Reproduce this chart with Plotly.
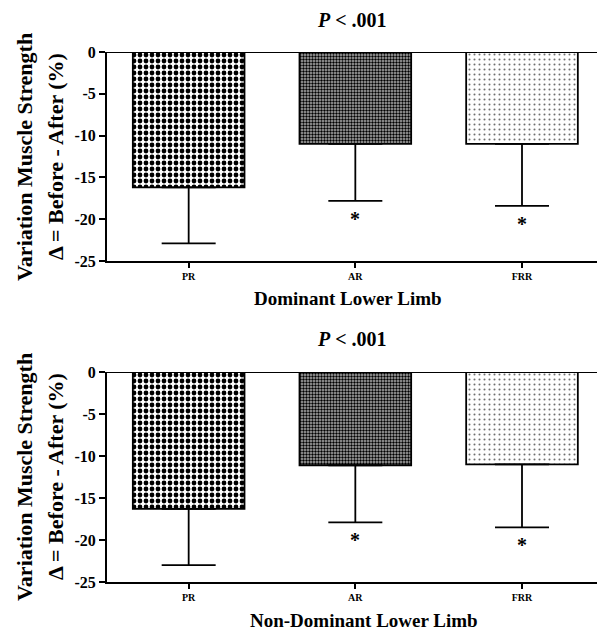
import plotly.graph_objects as go

# ---- data ----
groups = ["PR", "AR", "FRR"]
dominant_mean = [-16.2, -11.0, -11.0]
dominant_sd = [6.7, 6.8, 7.4]
nondominant_mean = [-16.3, -11.1, -11.0]
nondominant_sd = [6.7, 6.8, 7.5]
significance = ["", "*", "*"]
p_text = "<i>P</i> < .001"
panel_titles = ["Dominant Lower Limb", "Non-Dominant Lower Limb"]
y_title_lines = ["Variation Muscle Strength", "Δ = Before - After (%)"]
y_ticks = [0, -5, -10, -15, -20, -25]

FONT = "Liberation Serif, Times New Roman, serif"
W, H = 597, 633
L = 107

patterns = [
    dict(shape=".", size=6, solidity=0.5, fgcolor="black", bgcolor="white", fillmode="replace"),
    dict(shape=".", size=3, solidity=0.5, fgcolor="black", bgcolor="#b0b0b0", fillmode="replace"),
    dict(shape=".", size=5, solidity=0.13, fgcolor="#707070", bgcolor="white", fillmode="replace"),
]

def px_x(px):
    return (px - L) / (W - L)

def px_y(py):
    return (H - py) / H

fig = go.Figure()
panels = [
    (dominant_mean, dominant_sd, "x", "y"),
    (nondominant_mean, nondominant_sd, "x2", "y2"),
]
for means, sds, xa, ya in panels:
    for i, g in enumerate(groups):
        fig.add_trace(go.Bar(
            x=[g], y=[means[i]], width=0.67,
            xaxis=xa, yaxis=ya,
            marker=dict(color="white", line=dict(color="black", width=1.8), pattern=patterns[i]),
            error_y=dict(type="data", symmetric=False, array=[0], arrayminus=[sds[i]],
                         color="black", thickness=1.8, width=27),
            showlegend=False, hoverinfo="skip",
        ))

domains = [[px_y(261), px_y(52)], [px_y(582), px_y(372)]]

axis_common_x = dict(
    type="category", categoryorder="array", categoryarray=groups,
    range=[-0.49, 2.45], showline=True, linecolor="black", linewidth=2,
    ticks="outside", ticklen=5, tickwidth=1.5, tickcolor="black",
    tickfont=dict(family=FONT, size=10, color="black", weight="bold"),
    showgrid=False, zeroline=False, automargin=False, fixedrange=True,
)
axis_common_y = dict(
    range=[-25, 0], tickvals=y_ticks, ticktext=[str(v) for v in y_ticks],
    showline=True, linecolor="black", linewidth=2,
    ticks="outside", ticklen=6, tickwidth=2, tickcolor="black",
    tickfont=dict(family=FONT, size=16, color="black", weight="bold"),
    showgrid=False, zeroline=False, automargin=False, fixedrange=True,
)

fig.update_layout(
    width=W, height=H,
    margin=dict(l=L, r=0, t=0, b=0),
    paper_bgcolor="white", plot_bgcolor="white",
    barmode="overlay",
    xaxis=dict(axis_common_x, domain=[0, 1], anchor="y"),
    yaxis=dict(axis_common_y, domain=domains[0], anchor="x"),
    xaxis2=dict(axis_common_x, domain=[0, 1], anchor="y2"),
    yaxis2=dict(axis_common_y, domain=domains[1], anchor="x2"),
)

# zero lines across top of each panel
for xa, ya in [("x", "y"), ("x2", "y2")]:
    fig.add_shape(type="line", xref=xa + " domain", yref=ya, x0=0, x1=1, y0=0, y1=0,
                  line=dict(color="black", width=2), layer="above")

ann = []
# significance stars
for means, sds, xa, ya in panels:
    for i, g in enumerate(groups):
        if significance[i]:
            ann.append(dict(x=g, y=means[i] - sds[i], xref=xa, yref=ya,
                            text=significance[i], showarrow=False, yanchor="middle", yshift=-18,
                            font=dict(family=FONT, size=20, color="black", weight="bold")))

# P-value titles
for py in [20, 339]:
    ann.append(dict(x=px_x(352), y=px_y(py), xref="paper", yref="paper", text=p_text,
                    showarrow=False, xanchor="center", yanchor="middle",
                    font=dict(family=FONT, size=20, color="black", weight="bold")))

# x titles
for title, px, py in [(panel_titles[0], 348, 298), (panel_titles[1], 364, 620)]:
    ann.append(dict(x=px_x(px), y=px_y(py), xref="paper", yref="paper", text=title,
                    showarrow=False, xanchor="center", yanchor="middle",
                    font=dict(family=FONT, size=19, color="black", weight="bold")))

# y titles (two lines each)
for cy in [157, 477]:
    for line, lx in zip(y_title_lines, [24, 55]):
        ann.append(dict(x=px_x(lx), y=px_y(cy), xref="paper", yref="paper",
                        text=line, textangle=-90, showarrow=False,
                        xanchor="center", yanchor="middle",
                        font=dict(family=FONT, size=22, color="black", weight="bold")))

fig.update_layout(annotations=ann)
fig.write_html("out.html", config={"displayModeBar": False},
               post_script="document.body.style.margin='0';document.body.style.padding='0';")
